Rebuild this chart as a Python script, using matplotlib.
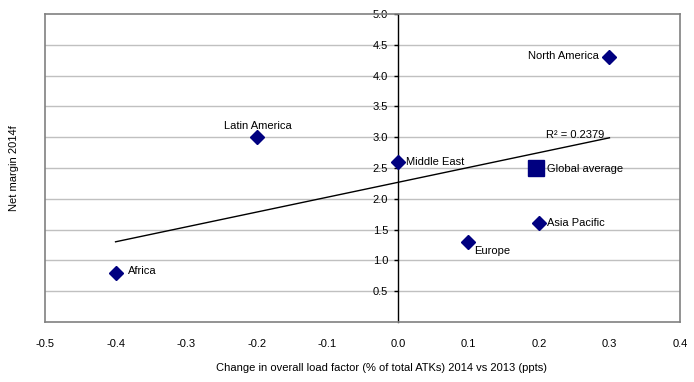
import matplotlib
matplotlib.use("Agg")
import matplotlib.pyplot as plt
import numpy as np

plt.rcParams['font.family'] = ['Liberation Sans', 'DejaVu Sans']
plt.rcParams['font.size'] = 8

regions = ["Africa", "Latin America", "Middle East", "Europe", "Asia Pacific", "North America"]
load_factor = [-0.4, -0.2, 0.0, 0.1, 0.2, 0.3]
net_margin = [0.8, 3.0, 2.6, 1.3, 1.6, 4.3]
global_x = 0.196
global_y = 2.5
r2_text = "R² = 0.2379"
x_ticks = [-0.5, -0.4, -0.3, -0.2, -0.1, 0.0, 0.1, 0.2, 0.3, 0.4]
y_ticks = [0.5, 1.0, 1.5, 2.0, 2.5, 3.0, 3.5, 4.0, 4.5, 5.0]

# label offsets in pixels (dx, dy, ha)
offsets = {
    "Africa": (12, 2, "left"),
    "Latin America": (1, 11, "center"),
    "Middle East": (8, 0, "left"),
    "Europe": (6, -9, "left"),
    "Asia Pacific": (8, 0, "left"),
    "North America": (-11, 1, "right"),
}

navy = "#000080"
grid = "#c0c0c0"
frame = "#808080"

fig = plt.figure(figsize=(6.94, 3.82), dpi=100)
ax = fig.add_axes([45/694, 1-322/382, 635/694, 308/382])

ax.set_xlim(-0.5, 0.4)
ax.set_ylim(0, 5)

for y in y_ticks[:-1]:
    ax.axhline(y, color=grid, lw=1, zorder=0)

# trendline
slope, icpt = np.polyfit(load_factor, net_margin, 1)
tx = np.array([min(load_factor), max(load_factor)])
ax.plot(tx, slope*tx + icpt, color="black", lw=1, zorder=2)
ax.annotate(r2_text, (0.3, slope*0.3 + icpt), xytext=(-63, 3),
            textcoords="offset pixels", ha="left", va="center")

ax.plot(load_factor, net_margin, "D", color=navy, markersize=7, zorder=3)
ax.plot([global_x], [global_y], "s", color=navy, markersize=11, zorder=3)

for name, x, y in zip(regions, load_factor, net_margin):
    dx, dy, ha = offsets[name]
    ax.annotate(name, (x, y), xytext=(dx, dy), textcoords="offset pixels",
                ha=ha, va="center")
ax.annotate("Global average", (global_x, global_y), xytext=(11, -1),
            textcoords="offset pixels", ha="left", va="center")

# spines: y axis at x=0, grey frame elsewhere
ax.spines['left'].set_position(('data', 0))
ax.spines['left'].set_color("black")
ax.spines['left'].set_linewidth(1)
for s in ['top', 'right', 'bottom']:
    ax.spines[s].set_color(frame)
    ax.spines[s].set_linewidth(1.2)
ax.axvline(-0.5, color=frame, lw=1.2, clip_on=False)

ax.set_yticks(y_ticks)
ax.set_yticklabels([f"{v:.1f}" for v in y_ticks])
ax.tick_params(axis='y', length=3, width=1, color="black", pad=4)

ax.set_xticks(x_ticks)
ax.set_xticklabels([f"{v:.1f}" for v in x_ticks])
ax.tick_params(axis='x', length=0, pad=12)

fig.text(382/694, 1-368/382, "Change in overall load factor (% of total ATKs) 2014 vs 2013 (ppts)",
         ha="center", va="center")
fig.text(14/694, 1-168/382, "Net margin 2014f", rotation=90, ha="center", va="center")

fig.savefig("out.png", dpi=100)
